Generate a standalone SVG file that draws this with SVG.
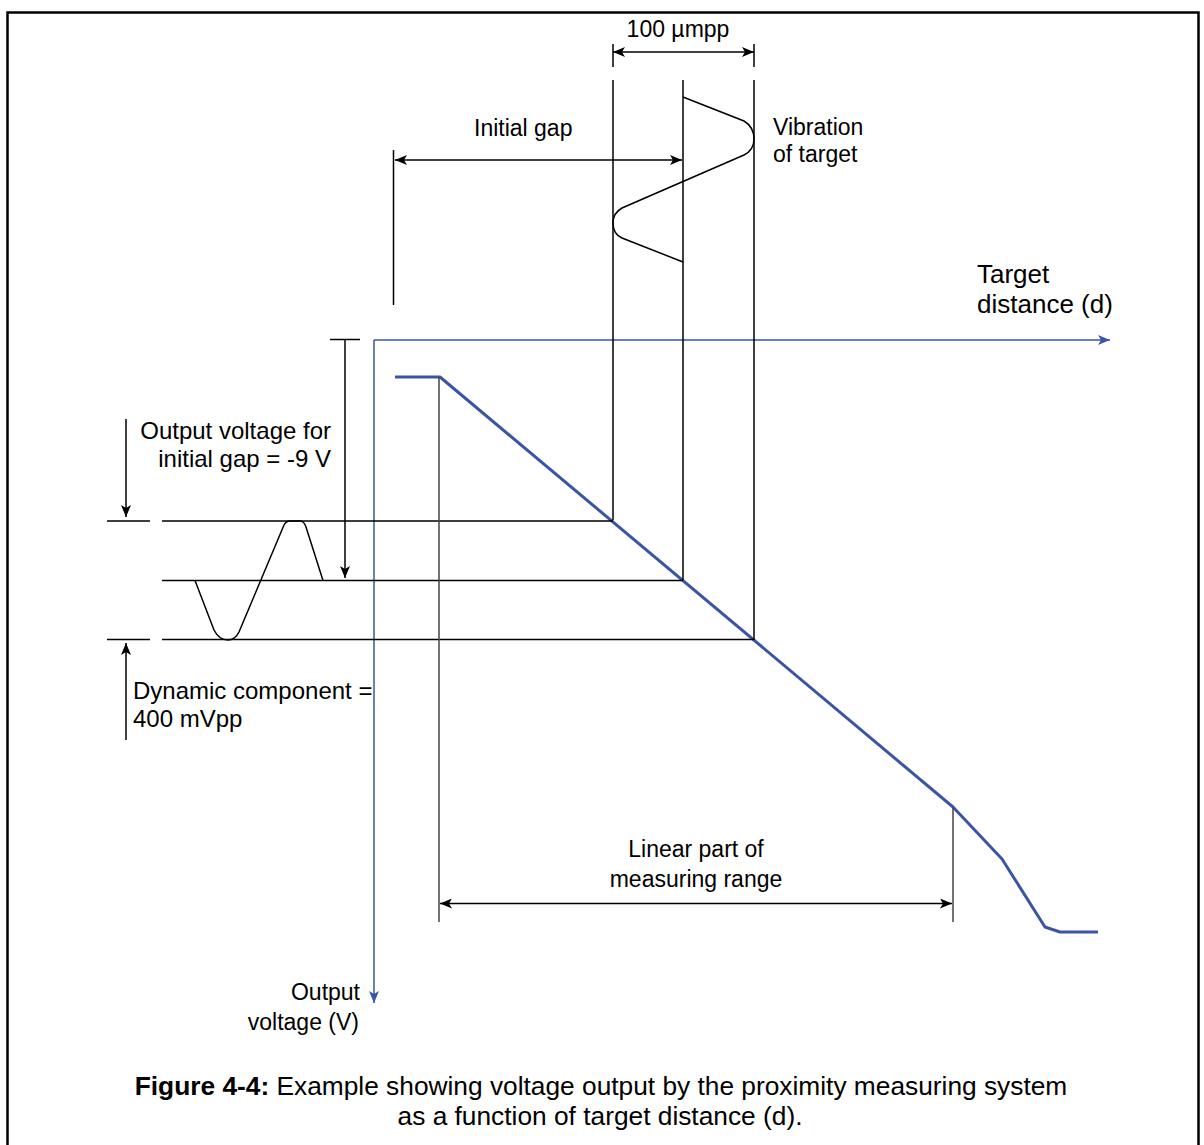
<svg xmlns="http://www.w3.org/2000/svg" width="1204" height="1145" viewBox="0 0 1204 1145">
<defs>
<style>
.t{font-family:"Liberation Sans",Arial,sans-serif;font-size:23px;fill:#000}
.m{font-size:24px}
.l{font-size:26px}
.c{font-size:26.3px}
.k{stroke:#000;stroke-width:1.5;fill:none}
.g{stroke:#444;stroke-width:1.5;fill:none}
.ax{stroke:#3a55a5;stroke-width:1.5;fill:none}
.cv{stroke:#3a55a5;stroke-width:3;fill:none;stroke-linejoin:round}
</style>
<marker id="ah" viewBox="0 0 12 10" refX="12" refY="5" markerWidth="12" markerHeight="10" markerUnits="userSpaceOnUse" orient="auto-start-reverse">
<path d="M0,0 L12,5 L0,10 L3,5 Z" fill="#000"/>
</marker>
<marker id="bh" viewBox="0 0 12 10" refX="12" refY="5" markerWidth="12" markerHeight="10" markerUnits="userSpaceOnUse" orient="auto">
<path d="M0,0 L12,5 L0,10 L3,5 Z" fill="#3a55a5"/>
</marker>
</defs>
<rect width="1204" height="1145" fill="#fff"/>
<path d="M7.5,1150 V12.5 H1198.5 V1150" stroke="#000" stroke-width="2.5" fill="none"/>

<g id="connectors">
<path class="ax" d="M374,340 H1110" marker-end="url(#bh)"/>
<path class="ax" d="M374,340 V1003" marker-end="url(#bh)"/>
<path class="cv" d="M395,377 H440 L953,807 L1002,859 L1045,927 L1060,932 H1098"/>
<path class="k" d="M613,80 V520"/>
<path class="k" d="M683,80 V580"/>
<path class="k" d="M754,80 V640"/>
<path class="k" d="M613,44 V67 M754,44 V67"/>
<path class="k" d="M613,52 H754" marker-start="url(#ah)" marker-end="url(#ah)"/>
<path class="k" d="M393.5,150 V305"/>
<path class="k" d="M395,160 H682" marker-start="url(#ah)" marker-end="url(#ah)"/>
<path class="k" d="M683,97 L744,121 Q754,127 754,139 Q754,150 744,155 L622,208 Q613,213 613,223 Q613,234 622,238 L683,262"/>
<path class="k" d="M107,521 H150 M162,521 H613"/>
<path class="k" d="M162,580.5 H683"/>
<path class="k" d="M107,639.5 H150 M162,639.5 H754"/>
<path class="k" d="M195,580.5 L214,630 Q219,640 228,640 Q235,640 239,632 L284,525 Q286,521 290,521 H300 Q304,521 306,527 L323,580.5"/>
<path class="k" d="M330,339.5 H360"/>
<path class="k" d="M345,340 V578" marker-end="url(#ah)"/>
<path class="k" d="M126,419 V517" marker-end="url(#ah)"/>
<path class="k" d="M126,740 V643" marker-end="url(#ah)"/>
<path class="g" d="M439,377 V922"/>
<path class="g" d="M953,807 V922"/>
<path class="k" d="M440,903.5 H952" marker-start="url(#ah)" marker-end="url(#ah)"/>
</g>

<g id="labels">
<text class="t" x="678" y="37" text-anchor="middle">100 µmpp</text>
<text class="t" x="474" y="136">Initial gap</text>
<text class="t" x="773" y="135">Vibration</text>
<text class="t" x="773" y="162">of target</text>
<text class="t l" x="977" y="283">Target</text>
<text class="t l" x="977" y="313">distance (d)</text>
<text class="t m" x="331" y="439" text-anchor="end">Output voltage for</text>
<text class="t m" x="331" y="467" text-anchor="end">initial gap = -9 V</text>
<text class="t m" x="133" y="699">Dynamic component =</text>
<text class="t m" x="133" y="727">400 mVpp</text>
<text class="t" x="696" y="857" text-anchor="middle">Linear part of</text>
<text class="t" x="696" y="887" text-anchor="middle">measuring range</text>
<text class="t" x="360" y="1000" text-anchor="end">Output</text>
<text class="t" x="359" y="1030" text-anchor="end">voltage (V)</text>
<text class="t c" x="601" y="1095" text-anchor="middle"><tspan font-weight="bold">Figure 4-4:</tspan> Example showing voltage output by the proximity measuring system</text>
<text class="t c" x="600" y="1125" text-anchor="middle">as a function of target distance (d).</text>
</g>
</svg>
